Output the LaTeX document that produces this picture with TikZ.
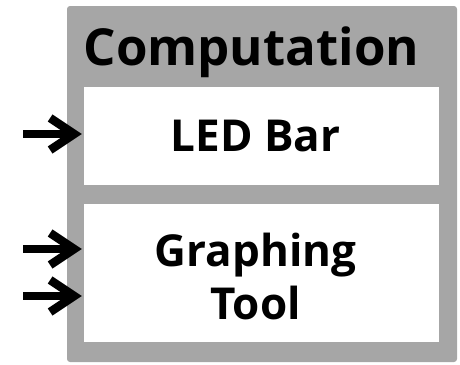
\documentclass[tikz,border=0pt]{standalone}
\usepackage{fontspec}
\setmainfont{Open Sans}
\usetikzlibrary{arrows.meta,positioning}
\begin{document}
\begin{tikzpicture}[x=1pt,y=-1pt]
    \tikzstyle{module}=[fill=black!35,draw=none,rounded corners=3pt]
    \tikzstyle{unit}=[fill=white,draw=none,minimum width=355pt,inner sep=0pt]
    \tikzstyle{label}=[font=\bfseries\fontsize{44}{50}\selectfont,align=center]
    \tikzstyle{input}=[line width=8.5pt,-{Straight Barb[length=24pt,width=32pt]}]

    \useasboundingbox (0,0) rectangle (460,364);
    \fill[module] (67,6) rectangle (457,362);

    \node[anchor=base west,font=\bfseries\fontsize{51}{55}\selectfont] at (80,65) (title) {Computation};

    \node[unit,minimum height=98pt] at (261.5,136) (led) {};
    \node[unit,minimum height=138pt] at (261.5,273) (graph) {};
    \node[label] at ([xshift=-6pt]led.center) (ledtext) {LED Bar};
    \node[label] at ([xshift=-6pt,yshift=-3pt]graph.center) (graphtext) {Graphing\\[3pt]Tool};

    \coordinate (in1) at (23,134);
    \coordinate (in2) at (23,249);
    \coordinate (in3) at (23,296);

    \draw[input] (in1) -- ([xshift=-2pt]led.west |- in1);
    \draw[input] (in2) -- ([xshift=-2pt]graph.west |- in2);
    \draw[input] (in3) -- ([xshift=-2pt]graph.west |- in3);
\end{tikzpicture}
\end{document}
